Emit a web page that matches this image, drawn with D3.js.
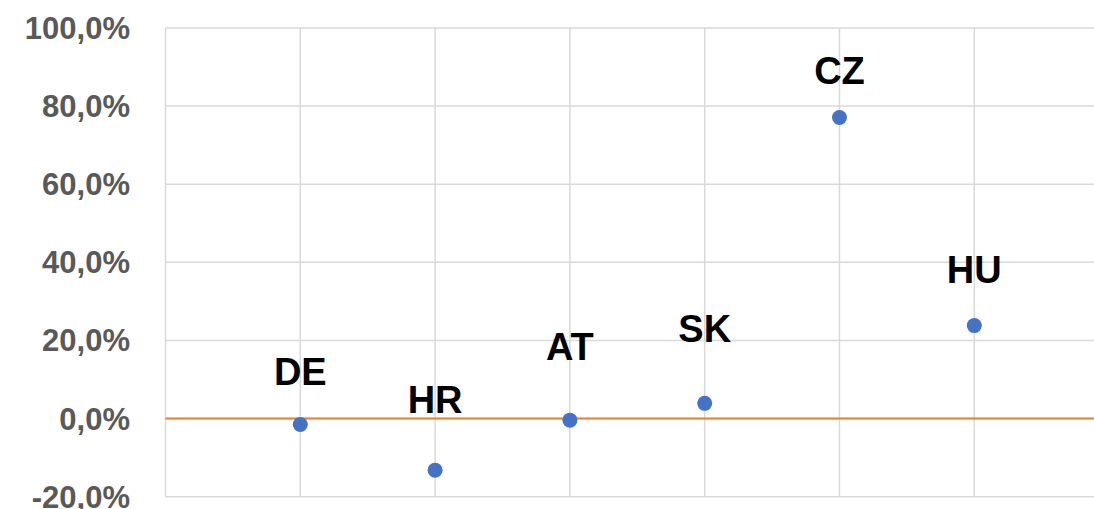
<!DOCTYPE html>
<html>
<head>
<meta charset="utf-8">
<script src="https://cdn.jsdelivr.net/npm/d3@7"></script>
<style>
  html, body { margin: 0; padding: 0; background: #fff; overflow: hidden; }
  svg { display: block; }
</style>
</head>
<body>
<div class="scatter"></div>
<script>
// data
const countries = ['DE', 'HR', 'AT', 'SK', 'CZ', 'HU'];
const xValues = [1, 2, 3, 4, 5, 6];
const yValues = [-1.5, -13.2, -0.4, 3.9, 77.1, 23.8];
// where each data label sits (in % units, label baseline)
const labelValues = [8.5, 1.4, 15.1, 19.5, 85.7, 34.8];
const yTicks = [-20, 0, 20, 40, 60, 80, 100];
const xTicks = [0, 1, 2, 3, 4, 5, 6, 7];

const width = 1094, height = 509;
const margin = { top: 28, right: 0, bottom: 12, left: 165.5 };

const svg = d3.select('.scatter')
    .append('svg')
    .attr('width', width)
    .attr('height', height);

// x is a value axis 0..7, the right end falls off the image
const x = d3.scaleLinear().domain([0, 7]).range([margin.left, margin.left + 7 * 134.8]);
const y = d3.scaleLinear().domain([-20, 100]).range([height - margin.bottom - 0.3, margin.top]);

// excel style: comma decimal, plain hyphen for negatives
const fmt = v => v.toFixed(1).replace('.', ',') + '%';

// horizontal gridlines
svg.append('g')
    .selectAll('line')
    .data(yTicks)
    .enter()
    .append('line')
    .attr('x1', x(0))
    .attr('x2', width)
    .attr('y1', d => y(d))
    .attr('y2', d => y(d))
    .attr('stroke', '#d9d9d9')
    .attr('stroke-width', 1.5);

// vertical gridlines
svg.append('g')
    .selectAll('line')
    .data(xTicks)
    .enter()
    .append('line')
    .attr('x1', d => x(d))
    .attr('x2', d => x(d))
    .attr('y1', y(100))
    .attr('y2', y(-20))
    .attr('stroke', '#d9d9d9')
    .attr('stroke-width', 1.5);

// zero line
svg.append('line')
    .attr('x1', x(0))
    .attr('x2', width)
    .attr('y1', y(0))
    .attr('y2', y(0))
    .attr('stroke', '#ED7D31')
    .attr('stroke-width', 2);

// y tick labels
svg.append('g')
    .selectAll('text')
    .data(yTicks)
    .enter()
    .append('text')
    .text(d => fmt(d))
    .attr('x', 130)
    .attr('y', d => y(d) + 11)
    .attr('text-anchor', 'end')
    .style('font-family', '"Liberation Sans", Arial, sans-serif')
    .style('font-weight', 'bold')
    .style('font-size', '31px')
    .style('fill', '#595959');

const pts = countries.map((c, i) => ({ name: c, x: xValues[i], y: yValues[i], ly: labelValues[i] }));

// dots
svg.append('g')
    .selectAll('circle')
    .data(pts)
    .enter()
    .append('circle')
    .attr('cx', d => x(d.x))
    .attr('cy', d => y(d.y))
    .attr('r', 7.5)
    .style('fill', '#4472C4');

// data labels
svg.append('g')
    .selectAll('text')
    .data(pts)
    .enter()
    .append('text')
    .text(d => d.name)
    .attr('x', d => x(d.x))
    .attr('y', d => y(d.ly))
    .attr('text-anchor', 'middle')
    .style('font-family', '"Liberation Sans", Arial, sans-serif')
    .style('font-weight', 'bold')
    .style('font-size', '38px')
    .style('fill', '#000');
</script>
</body>
</html>
